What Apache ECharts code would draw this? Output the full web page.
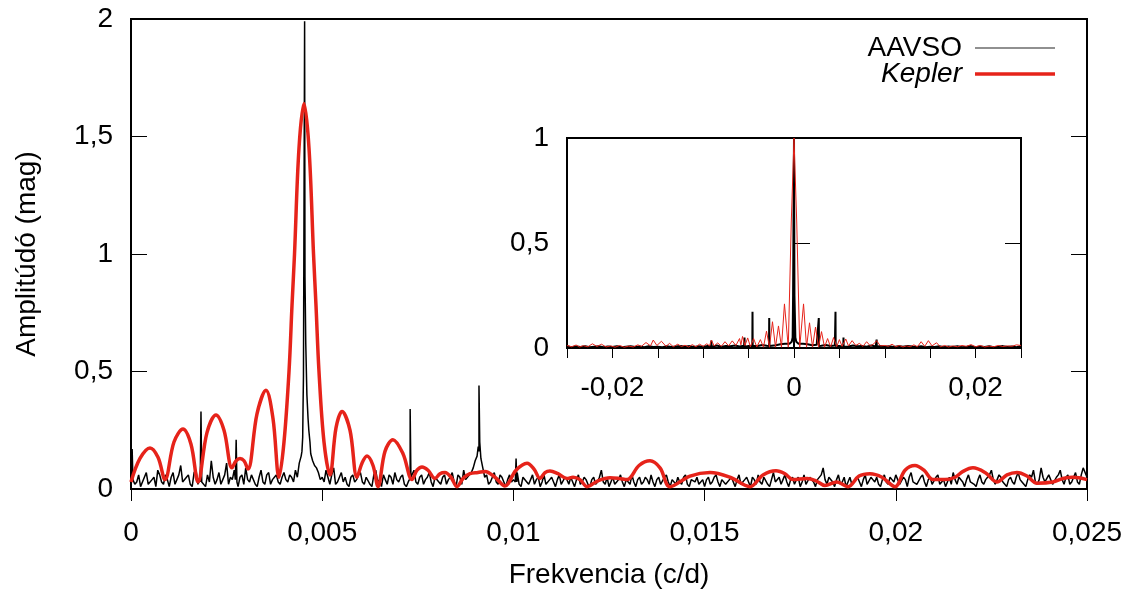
<!DOCTYPE html>
<html>
<head>
<meta charset="utf-8">
<script src="https://cdn.jsdelivr.net/npm/echarts@6/dist/echarts.min.js"></script>
<style>html,body{margin:0;padding:0;background:#fff}#c{width:1135px;height:590px}</style>
</head>
<body>
<div id="c"></div>
<script>
// ---------- DATA ----------
// Main panel: AAVSO amplitude spectrum (mag), sampled on 0, 0.0001, ... 0.025 c/d
const aavsoStep = 0.0001;
const aavsoAmp = [
0.05,0.02,0.06,0.01,0.07,0.02,0.05,0.08,0.03,0.06,
0.01,0.07,0.04,0.10,0.03,0.06,0.01,0.08,0.04,0.03,
0.06,0.12,0.02,0.07,0.04,0.11,0.05,0.08,0.01,0.06,
0.09,0.03,0.06,0.01,0.08,0.02,0.07,0.04,0.06,0.02,
0.07,0.03,0.05,0.08,0.11,0.36,0.40,0.15,0.10,0.07,
0.05,0.08,0.02,0.09,0.03,0.07,0.05,0.01,0.06,0.04,
0.07,0.02,0.05,0.01,0.08,0.04,0.06,0.02,0.05,0.07,
0.03,0.06,0.01,0.05,0.08,0.02,0.06,0.04,0.07,0.01,
0.05,0.02,0.06,0.04,0.07,0.01,0.05,0.08,0.04,0.07,
0.12,0.16,0.09,0.06,0.03,0.07,0.02,0.05,0.01,0.06,
0.04,0.07,0.01,0.05,0.02,0.06,0.04,0.01,0.06,0.02,
0.05,0.01,0.06,0.02,0.04,0.05,0.01,0.06,0.03,0.04,
0.01,0.05,0.03,0.08,0.02,0.01,0.05,0.03,0.06,0.01,
0.04,0.06,0.01,0.05,0.03,0.04,0.06,0.01,0.05,0.02,
0.06,0.01,0.04,0.05,0.02,0.06,0.01,0.04,0.05,0.02,
0.01,0.05,0.03,0.06,0.01,0.04,0.02,0.05,0.01,0.06,
0.02,0.05,0.01,0.04,0.06,0.02,0.05,0.01,0.07,0.03,
0.02,0.06,0.01,0.05,0.04,0.01,0.06,0.02,0.05,0.01,
0.04,0.09,0.02,0.05,0.01,0.06,0.03,0.01,0.05,0.02,
0.05,0.01,0.06,0.02,0.04,0.05,0.01,0.06,0.02,0.04,
0.06,0.02,0.05,0.01,0.07,0.03,0.02,0.06,0.01,0.05,
0.02,0.06,0.03,0.01,0.05,0.07,0.02,0.05,0.01,0.06,
0.03,0.01,0.06,0.02,0.05,0.08,0.02,0.06,0.03,0.01,
0.05,0.02,0.07,0.03,0.01,0.06,0.08,0.02,0.09,0.03,
0.06,0.02,0.05,0.08,0.02,0.06,0.03,0.07,0.02,0.09,
0.05
];
// AAVSO amplitude at the in-between frequencies 0.00005, 0.00015, ... 0.02495 c/d
const aavsoAmpMid = [
0.04,0.03,0.01,0.05,0.02,0.04,0.01,0.06,0.02,0.04,
0.05,0.02,0.06,0.03,0.05,0.02,0.07,0.02,0.03,0.01,
0.03,0.05,0.04,0.02,0.06,0.02,0.04,0.21,0.05,0.02,
0.04,0.06,0.02,0.05,0.03,0.06,0.02,0.05,0.03,0.05,
0.04,0.06,0.03,0.05,0.14,0.90,0.25,0.12,0.09,0.04,
0.03,0.05,0.06,0.02,0.05,0.03,0.02,0.05,0.03,0.06,
0.03,0.05,0.02,0.06,0.03,0.01,0.04,0.06,0.02,0.04,
0.05,0.02,0.03,0.05,0.03,0.05,0.02,0.05,0.03,0.05,
0.03,0.05,0.02,0.05,0.03,0.06,0.02,0.04,0.06,0.09,
0.14,0.13,0.05,0.02,0.05,0.03,0.06,0.03,0.04,0.03,
0.03,0.02,0.05,0.03,0.04,0.02,0.05,0.03,0.02,0.04,
0.03,0.04,0.02,0.05,0.02,0.03,0.04,0.02,0.05,0.02,
0.04,0.02,0.05,0.03,0.05,0.03,0.02,0.04,0.03,0.04,
0.02,0.03,0.04,0.02,0.05,0.02,0.03,0.04,0.02,0.05,
0.03,0.04,0.02,0.03,0.05,0.02,0.04,0.03,0.02,0.04,
0.04,0.02,0.05,0.03,0.04,0.02,0.04,0.03,0.04,0.02,
0.04,0.03,0.05,0.02,0.03,0.05,0.02,0.04,0.03,0.05,
0.04,0.03,0.04,0.02,0.05,0.03,0.02,0.05,0.03,0.04,
0.06,0.04,0.05,0.03,0.04,0.02,0.05,0.03,0.02,0.04,
0.03,0.04,0.02,0.05,0.03,0.02,0.04,0.03,0.05,0.03,
0.04,0.02,0.04,0.05,0.03,0.02,0.05,0.03,0.04,0.02,
0.05,0.02,0.04,0.03,0.02,0.04,0.05,0.03,0.04,0.03,
0.02,0.04,0.03,0.04,0.06,0.04,0.02,0.05,0.02,0.04,
0.03,0.05,0.04,0.02,0.04,0.05,0.03,0.04,0.05,0.03,
0.04,0.02,0.06,0.04,0.05,0.02,0.05,0.03,0.06,0.07
];
// Narrow AAVSO peaks [frequency c/d, amplitude mag]
const aavsoPeaks = [
[0.00001,0.12],[0.00003,0.17],[0.00005,0.04],
[0.00181,0.03],[0.00183,0.33],[0.00185,0.03],
[0.00273,0.04],[0.00275,0.21],[0.00277,0.03],
[0.00447,0.16],[0.00449,0.22],[0.00451,0.48],[0.00454,1.99],[0.00457,0.62],[0.00463,0.30],[0.00468,0.20],
[0.00728,0.04],[0.00730,0.34],[0.00732,0.05],
[0.00905,0.14],[0.00908,0.18],[0.00910,0.44],[0.00912,0.20],[0.00915,0.13],
[0.01005,0.03],[0.01007,0.13],[0.01009,0.03]
];
// Main panel: Kepler amplitude spectrum [frequency c/d, amplitude mag]
const keplerMain = [
[0,0.03],[0.000235,0.13],[0.000497,0.175],[0.000706,0.135],[0.000889,0.04],
[0.001124,0.2],[0.00136,0.255],[0.001569,0.19],[0.001752,0.03],
[0.001987,0.24],[0.002223,0.315],[0.002432,0.25],[0.002641,0.09],
[0.002746,0.12],[0.00285,0.13],[0.002955,0.12],[0.00306,0.085],
[0.003295,0.32],[0.00353,0.42],[0.003713,0.3],[0.00387,0.05],
[0.004001,0.2],[0.004132,0.5],[0.00421,0.78],[0.004276,1.0],[0.004393,1.45],[0.004524,1.64],
[0.004655,1.45],[0.004773,1.0],[0.004838,0.78],[0.004916,0.5],[0.005047,0.2],[0.005204,0.06],
[0.005361,0.26],[0.005518,0.33],[0.005727,0.25],[0.00591,0.05],
[0.006041,0.11],[0.006172,0.14],[0.006329,0.1],[0.00646,0.01],
[0.006642,0.16],[0.006851,0.21],[0.007113,0.15],[0.007348,0.04],
[0.007479,0.08],[0.00761,0.094],[0.007767,0.08],[0.00795,0.045],
[0.00808,0.065],[0.008211,0.07],[0.008368,0.05],[0.008525,0.01],
[0.008682,0.045],[0.008865,0.065],[0.009074,0.07],[0.009257,0.075],[0.009519,0.05],[0.00978,0.013],
[0.010068,0.08],[0.010356,0.11],[0.010539,0.085],[0.010696,0.045],
[0.010826,0.07],[0.010957,0.077],[0.011166,0.065],[0.011402,0.045],
[0.011559,0.05],[0.011742,0.04],[0.011925,0.01],
[0.012212,0.035],[0.012526,0.048],[0.012762,0.045],[0.012971,0.04],
[0.013285,0.1],[0.013572,0.12],[0.013834,0.09],[0.014095,0.01],
[0.014618,0.055],[0.015141,0.07],[0.015664,0.05],[0.016187,0.01],
[0.016527,0.06],[0.016867,0.078],[0.017103,0.065],[0.017312,0.04],
[0.017678,0.045],[0.017913,0.035],[0.018148,0.015],
[0.018462,0.03],[0.01875,0.01],
[0.019038,0.055],[0.019325,0.065],[0.019639,0.05],[0.019979,0.01],
[0.020241,0.08],[0.020502,0.10],[0.020737,0.08],[0.020973,0.04],
[0.021286,0.04],[0.021548,0.05],
[0.021757,0.075],[0.022018,0.09],[0.022333,0.07],[0.022646,0.03],
[0.022908,0.06],[0.023169,0.07],[0.023431,0.055],[0.023692,0.025],
[0.024111,0.03],[0.024372,0.045],[0.024634,0.05],[0.025,0.04]
];
// Inset: AAVSO spectral window baseline on -0.025, -0.0245, ... 0.025 c/d
const winStep = 0.0005;
const winStart = -0.025;
const aavsoWinBase = [
0.008,0.004,0.007,0.005,0.009,0.004,0.006,0.008,0.004,0.007,
0.005,0.009,0.004,0.006,0.008,0.005,0.007,0.004,0.009,0.005,
0.006,0.004,0.008,0.005,0.007,0.010,0.006,0.009,0.005,0.008,
0.006,0.010,0.007,0.012,0.006,0.010,0.008,0.012,0.007,0.011,
0.009,0.012,0.010,0.014,0.011,0.015,0.013,0.018,0.020,0.020,
1.000,
0.020,0.020,0.018,0.013,0.015,0.011,0.014,0.010,0.012,0.009,
0.011,0.007,0.012,0.008,0.010,0.006,0.012,0.007,0.010,0.006,
0.008,0.005,0.009,0.006,0.010,0.007,0.005,0.008,0.004,0.006,
0.005,0.009,0.004,0.007,0.005,0.008,0.004,0.006,0.009,0.004,
0.007,0.005,0.008,0.004,0.006,0.009,0.005,0.007,0.004,0.008
];
const aavsoWinPeaks = [
[-0.00912,0.006],[-0.0091,0.035],[-0.00908,0.006],
[-0.00547,0.006],[-0.00545,0.05],[-0.00543,0.006],
[-0.00459,0.01],[-0.00457,0.173],[-0.00455,0.01],
[-0.00275,0.01],[-0.00273,0.143],[-0.00271,0.01],
[-0.00025,0.03],[-0.00015,0.05],[-0.0001,0.25],[-0.00005,0.25],
[0.00005,0.25],[0.0001,0.25],[0.00015,0.05],[0.00025,0.03],
[0.00271,0.01],[0.00273,0.143],[0.00275,0.01],
[0.00455,0.01],[0.00457,0.173],[0.00459,0.01],
[0.00543,0.006],[0.00545,0.05],[0.00547,0.006],
[0.00908,0.006],[0.0091,0.04],[0.00912,0.006]
];
// Inset: Kepler spectral window [frequency c/d, amplitude]
const keplerWin = [
[-0.025,0.012],[-0.0245,0.006],[-0.024,0.014],[-0.0236,0.005],[-0.0232,0.011],[-0.0227,0.006],
[-0.0222,0.02],[-0.0217,0.007],[-0.0212,0.018],[-0.0207,0.005],[-0.0202,0.01],[-0.0197,0.004],
[-0.0192,0.012],[-0.0187,0.004],[-0.0182,0.009],[-0.0177,0.005],[-0.0172,0.015],[-0.0168,0.008],
[-0.0163,0.026],[-0.0158,0.01],[-0.0155,0.038],[-0.0151,0.012],[-0.0146,0.032],[-0.0141,0.008],
[-0.0137,0.022],[-0.0133,0.006],[-0.0128,0.018],[-0.0124,0.007],[-0.012,0.013],[-0.0116,0.005],
[-0.0112,0.016],[-0.0108,0.006],[-0.0104,0.018],[-0.01,0.008],[-0.0096,0.02],[-0.0093,0.01],
[-0.0091,0.038],[-0.0088,0.01],[-0.0084,0.024],[-0.008,0.008],[-0.0076,0.03],[-0.0072,0.01],
[-0.0068,0.034],[-0.0064,0.012],[-0.006,0.045],[-0.00585,0.015],[-0.00567,0.055],[-0.0054,0.012],
[-0.0051,0.048],[-0.0048,0.006],[-0.00445,0.045],[-0.0041,0.005],[-0.0037,0.04],[-0.00336,0.004],
[-0.00303,0.08],[-0.0027,0.004],[-0.00237,0.125],[-0.00204,0.004],[-0.00171,0.105],[-0.00138,0.004],
[-0.00105,0.21],[-0.00063,0.004],[-0.0003,0.6],[0,1],[0.0003,0.6],[0.00063,0.004],
[0.00105,0.21],[0.00138,0.004],[0.00171,0.12],[0.00204,0.004],[0.00237,0.10],[0.0027,0.004],
[0.00303,0.078],[0.00336,0.004],[0.0037,0.045],[0.00403,0.005],[0.00436,0.05],[0.0047,0.006],
[0.005,0.04],[0.0053,0.008],[0.0057,0.043],[0.006,0.01],[0.0064,0.035],[0.0068,0.012],
[0.0072,0.022],[0.0076,0.008],[0.008,0.03],[0.0084,0.01],[0.0088,0.02],[0.0091,0.035],
[0.0095,0.01],[0.01,0.012],[0.0104,0.008],[0.0108,0.018],[0.0112,0.006],[0.0116,0.012],
[0.012,0.005],[0.0124,0.01],[0.0128,0.006],[0.0132,0.015],[0.0136,0.006],[0.014,0.03],
[0.0144,0.008],[0.0148,0.035],[0.0152,0.01],[0.0157,0.025],[0.0161,0.006],[0.0166,0.012],
[0.017,0.005],[0.0175,0.01],[0.018,0.006],[0.0185,0.012],[0.019,0.008],[0.0195,0.016],
[0.02,0.006],[0.0205,0.012],[0.021,0.005],[0.0215,0.009],[0.022,0.006],[0.0225,0.012],
[0.023,0.007],[0.0235,0.01],[0.024,0.008],[0.0245,0.015],[0.025,0.012]
];
const mainXTicks = {min:0, max:0.025, interval:0.005};
const mainYTicks = {min:0, max:2, interval:0.5};
const insetXTicks = {min:-0.025, max:0.025, interval:0.005, labelled:[-0.02,0,0.02]};
const insetYTicks = {min:0, max:1, interval:0.5};
const seriesNames = ['AAVSO','Kepler'];
const axisNames = {x:'Frekvencia (c/d)', y:'Amplitúdó (mag)'};

// ---------- BUILD ----------
function gridPoints(values, start, step){ return values.map((v,i)=>[start + i*step, v]); }
const aavsoMain = gridPoints(aavsoAmp, 0, aavsoStep)
  .concat(gridPoints(aavsoAmpMid, aavsoStep/2, aavsoStep))
  .concat(aavsoPeaks).sort((a,b)=>a[0]-b[0]);
const aavsoWin = gridPoints(aavsoWinBase, winStart, winStep)
  .concat(aavsoWinPeaks).sort((a,b)=>a[0]-b[0]);

const FONT = 'Liberation Sans';
const FS = 28;
const RED = '#e6231a';
function fmt(v){
  const s = parseFloat(Number(v).toPrecision(6)).toString();
  return s.replace('.', ',');
}
const txt = {color:'#000', fontFamily:FONT, fontSize:FS};
const axLine = {show:true, lineStyle:{color:'#000', width:2}};
const tickIn = {show:true, inside:true, length:16, lineStyle:{color:'#000', width:1}};

const chart = echarts.init(document.getElementById('c'), null, {renderer:'canvas'});
chart.setOption({
  animation:false,
  backgroundColor:'#fff',
  grid:[
    {left:131, top:19, width:956, height:470, show:true, borderColor:'#000', borderWidth:2,
     backgroundColor:'transparent', containLabel:false, outerBoundsMode:'none'},
    {left:567, top:138, width:454, height:210, show:true, borderColor:'#000', borderWidth:2,
     backgroundColor:'#fff', containLabel:false, outerBoundsMode:'none'}
  ],
  legend:[
    {data:[{name:seriesNames[0]}], right:80, top:33, align:'right', icon:'rect', itemWidth:80, itemHeight:1.2, padding:0,
     textStyle:Object.assign({}, txt, {lineHeight:30, padding:[0,8,0,0]}), selectedMode:false},
    {data:[{name:seriesNames[1], textStyle:{fontStyle:'italic'}}], right:80, top:59, align:'right', icon:'rect', itemWidth:80, itemHeight:3.5, padding:0,
     textStyle:Object.assign({}, txt, {lineHeight:30, padding:[0,8,0,0]}), selectedMode:false}
  ],
  xAxis:[
    {type:'value', gridIndex:0, min:mainXTicks.min, max:mainXTicks.max, interval:mainXTicks.interval,
     name:axisNames.x, nameLocation:'middle', nameGap:72, nameTextStyle:txt,
     axisLine:axLine, axisTick:{show:true, inside:false, length:12, lineStyle:{color:'#000', width:1}},
     axisLabel:Object.assign({}, txt, {margin:30, formatter:fmt}), splitLine:{show:false}},
    {type:'value', gridIndex:1, min:insetXTicks.min, max:insetXTicks.max, interval:insetXTicks.interval,
     axisLine:axLine, axisTick:{show:true, inside:false, length:10, lineStyle:{color:'#000', width:1}},
     axisLabel:Object.assign({}, txt, {margin:26,
       formatter:function(v){ return insetXTicks.labelled.some(t=>Math.abs(t-v)<1e-9) ? fmt(v) : ''; }}),
     splitLine:{show:false}}
  ],
  yAxis:[
    {type:'value', gridIndex:0, min:mainYTicks.min, max:mainYTicks.max, interval:mainYTicks.interval,
     name:axisNames.y, nameLocation:'middle', nameGap:90, nameRotate:90, nameTextStyle:txt,
     axisLine:axLine, axisTick:tickIn,
     axisLabel:Object.assign({}, txt, {margin:18, formatter:fmt}), splitLine:{show:false}},
    {type:'value', gridIndex:0, position:'right', min:mainYTicks.min, max:mainYTicks.max, interval:mainYTicks.interval,
     axisLine:axLine, axisTick:tickIn, axisLabel:{show:false}, splitLine:{show:false}},
    {type:'value', gridIndex:1, min:insetYTicks.min, max:insetYTicks.max, interval:insetYTicks.interval,
     axisLine:axLine, axisTick:tickIn,
     axisLabel:Object.assign({}, txt, {margin:18, formatter:fmt}), splitLine:{show:false}},
    {type:'value', gridIndex:1, position:'right', min:insetYTicks.min, max:insetYTicks.max, interval:insetYTicks.interval,
     axisLine:axLine, axisTick:tickIn, axisLabel:{show:false}, splitLine:{show:false}}
  ],
  series:[
    {name:seriesNames[0], type:'line', xAxisIndex:0, yAxisIndex:0, data:aavsoMain, showSymbol:false, symbol:'none',
     lineStyle:{color:'#000', width:1.5}, itemStyle:{color:'#222'}, z:2},
    {name:seriesNames[1], type:'line', xAxisIndex:0, yAxisIndex:0, data:keplerMain, showSymbol:false, symbol:'none',
     smooth:0.35, lineStyle:{color:RED, width:3.5, join:'round'}, itemStyle:{color:RED}, z:3},
    {name:'AAVSO ablak', type:'line', xAxisIndex:1, yAxisIndex:2, data:aavsoWin, showSymbol:false, symbol:'none',
     lineStyle:{color:'#000', width:2}, itemStyle:{color:'#000'}, z:4},
    {name:'Kepler ablak', type:'line', xAxisIndex:1, yAxisIndex:2, data:keplerWin, showSymbol:false, symbol:'none',
     lineStyle:{color:RED, width:1}, itemStyle:{color:RED}, z:5}
  ]
});
</script>
</body>
</html>
